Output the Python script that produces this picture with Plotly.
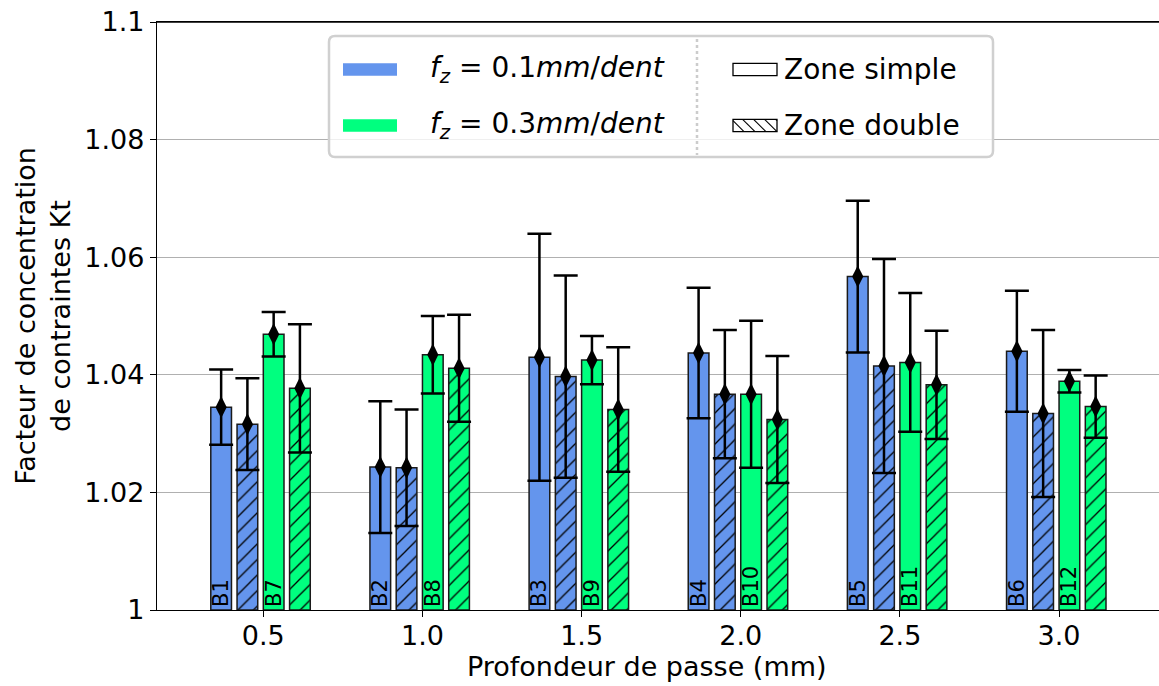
import plotly.graph_objects as go

# ---------------- data ----------------
depths = [0.5, 1.0, 1.5, 2.0, 2.5, 3.0]
depth_labels = ["0.5", "1.0", "1.5", "2.0", "2.5", "3.0"]

blue_simple = [1.0345, 1.0243, 1.0430, 1.0437, 1.0567, 1.0440]
blue_simple_err = [0.0064, 0.0112, 0.0210, 0.0111, 0.0129, 0.0103]
blue_double = [1.0316, 1.0242, 1.0397, 1.0367, 1.0415, 1.0334]
blue_double_err = [0.0078, 0.0099, 0.0172, 0.0109, 0.0182, 0.0142]
green_simple = [1.0469, 1.0434, 1.0425, 1.0367, 1.0421, 1.0389]
green_simple_err = [0.0038, 0.0066, 0.0041, 0.0125, 0.0118, 0.0019]
green_double = [1.0377, 1.0411, 1.0341, 1.0324, 1.0383, 1.0346]
green_double_err = [0.0109, 0.0091, 0.0106, 0.0108, 0.0092, 0.0053]

blue_labels = ["B1", "B2", "B3", "B4", "B5", "B6"]
green_labels = ["B7", "B8", "B9", "B10", "B11", "B12"]

y_tickvals = [1.0, 1.02, 1.04, 1.06, 1.08, 1.1]
y_ticktext = ["1", "1.02", "1.04", "1.06", "1.08", "1.1"]

legend_fz = ["<i>f</i><sub><i>z</i></sub> = 0.1<i>mm</i>/<i>dent</i>",
             "<i>f</i><sub><i>z</i></sub> = 0.3<i>mm</i>/<i>dent</i>"]
legend_zone = ["Zone simple", "Zone double"]
x_title = "Profondeur de passe (mm)"
y_title = "Facteur de concentration<br>de contraintes Kt"

# ---------------- style ----------------
BLUE = "#6495ED"
GREEN = "#00FF7F"
EDGE = "#1a1a1a"
FONT = "DejaVu Sans"
W, H = 1159, 686
ML, MR, MT, MB = 157, 0, 22, 76
BAR_W = 0.065
BASE = 1.0

series = [
    (blue_simple, blue_simple_err, BLUE, False, -0.1325, blue_labels),
    (blue_double, blue_double_err, BLUE, True, -0.050, None),
    (green_simple, green_simple_err, GREEN, False, 0.0325, green_labels),
    (green_double, green_double_err, GREEN, True, 0.115, None),
]

fig = go.Figure()

for vals, errs, col, hatched, off, labels in series:
    xs = [d + off for d in depths]
    marker = dict(color=col, line=dict(color=EDGE, width=1.5))
    if hatched:
        marker["pattern"] = dict(shape="/", fgcolor="black", bgcolor=col,
                                 size=11, solidity=0.12, fillmode="replace")
    bar_kw = dict(x=xs, y=[v - BASE for v in vals], base=BASE, width=BAR_W,
                  marker=marker, showlegend=False)
    if labels:
        bar_kw.update(text=labels, textposition="inside", insidetextanchor="start",
                      textangle=-90, constraintext="none",
                      textfont=dict(family=FONT, size=21, color="black"))
    else:
        bar_kw.update(textposition="none")
    fig.add_trace(go.Bar(**bar_kw))

for vals, errs, col, hatched, off, labels in series:
    xs = [d + off for d in depths]
    fig.add_trace(go.Scatter(
        x=xs, y=vals, mode="markers",
        marker=dict(symbol="diamond-tall", size=16, color="black"),
        error_y=dict(type="data", array=errs, visible=True,
                     color="black", thickness=2.5, width=12),
        showlegend=False,
    ))

# ---------------- manual legend (screen-pixel helpers) ----------------
PW = W - ML - MR
PH = H - MT - MB


def px(x):
    return (x - ML) / PW


def py(y):
    return (H - MB - y) / PH


shapes = []
# top spine
shapes.append(dict(type="line", xref="paper", yref="paper", x0=0, x1=1, y0=1, y1=1,
                   line=dict(color="black", width=1.3), layer="above"))
x0, x1, y0, y1, r = 329, 993, 36, 157, 6
path = (f"M {px(x0 + r)} {py(y0)} L {px(x1 - r)} {py(y0)} "
        f"Q {px(x1)} {py(y0)} {px(x1)} {py(y0 + r)} "
        f"L {px(x1)} {py(y1 - r)} Q {px(x1)} {py(y1)} {px(x1 - r)} {py(y1)} "
        f"L {px(x0 + r)} {py(y1)} Q {px(x0)} {py(y1)} {px(x0)} {py(y1 - r)} "
        f"L {px(x0)} {py(y0 + r)} Q {px(x0)} {py(y0)} {px(x0 + r)} {py(y0)} Z")
shapes.append(dict(type="path", xref="paper", yref="paper", path=path,
                   fillcolor="rgba(255,255,255,0.8)",
                   line=dict(color="#d0d0d0", width=2.5), layer="above"))
shapes.append(dict(type="line", xref="paper", yref="paper",
                   x0=px(697), x1=px(697), y0=py(39), y1=py(155),
                   line=dict(color="#cccccc", width=2.5, dash="dot"), layer="above"))

row_y = [69.5, 125.5]
for i, col in enumerate([BLUE, GREEN]):
    shapes.append(dict(type="rect", xref="paper", yref="paper",
                       x0=px(343), x1=px(397), y0=py(row_y[i] - 6.2), y1=py(row_y[i] + 6.2),
                       fillcolor=col, line=dict(width=0), layer="above"))
for i in range(2):
    shapes.append(dict(type="rect", xref="paper", yref="paper",
                       x0=px(733), x1=px(777), y0=py(row_y[i] - 6.2), y1=py(row_y[i] + 6.2),
                       fillcolor="white", line=dict(color="black", width=1.3), layer="above"))
rx0, rx1 = 733, 777
ry0, ry1 = row_y[1] - 6.2, row_y[1] + 6.2
h = ry1 - ry0
start = rx0 - h
while start < rx1:
    ax, ay = start, ry0
    bx, by = start + h, ry1
    if ax < rx0:
        ay = ay + (rx0 - ax)
        ax = rx0
    if bx > rx1:
        by = by - (bx - rx1)
        bx = rx1
    if bx > ax:
        shapes.append(dict(type="line", xref="paper", yref="paper",
                           x0=px(ax), y0=py(ay), x1=px(bx), y1=py(by),
                           line=dict(color="black", width=1.1), layer="above"))
    start += 11

annotations = []
for i in range(2):
    annotations.append(dict(xref="paper", yref="paper", x=px(428), y=py(row_y[i]),
                            text=legend_fz[i], showarrow=False, xanchor="left",
                            yanchor="middle", font=dict(family=FONT, size=28, color="black")))
    annotations.append(dict(xref="paper", yref="paper", x=px(782), y=py(row_y[i]),
                            text=legend_zone[i], showarrow=False, xanchor="left",
                            yanchor="middle", font=dict(family=FONT, size=28, color="black")))
annotations.append(dict(xref="paper", yref="paper", x=px(647), y=py(666),
                        text=x_title, showarrow=False, xanchor="center",
                        yanchor="middle", font=dict(family=FONT, size=27, color="black")))

fig.update_layout(
    width=W, height=H,
    margin=dict(l=ML, r=MR, t=MT, b=MB, autoexpand=False),
    plot_bgcolor="white", paper_bgcolor="white",
    barmode="overlay", showlegend=False,
    font=dict(family=FONT, size=27, color="black"),
    shapes=shapes, annotations=annotations,
    xaxis=dict(range=[0.166, 3.314], tickvals=depths, ticktext=depth_labels,
               ticks="outside", ticklen=6, tickwidth=1.2, tickcolor="black",
               showline=True, linecolor="black", linewidth=1.3, mirror=True,
               showgrid=False, zeroline=False, automargin=False,
               ticklabelstandoff=-5, ticklabeloverflow="allow",
               tickfont=dict(family=FONT, size=27)),
    yaxis=dict(range=[1.0, 1.1], tickvals=y_tickvals, ticktext=y_ticktext,
               ticks="outside", ticklen=6, tickwidth=1.2, tickcolor="black",
               showline=True, linecolor="black", linewidth=1.3,
               showgrid=True, gridcolor="#b0b0b0", gridwidth=1.2, zeroline=False,
               automargin=False, ticklabeloverflow="allow",
               tickfont=dict(family=FONT, size=27),
               title=dict(text=y_title, standoff=5,
                          font=dict(family=FONT, size=27))),
)

fig.write_html("out.html", config={"displayModeBar": False},
               post_script="document.body.style.margin='0';document.body.style.overflow='hidden';")
